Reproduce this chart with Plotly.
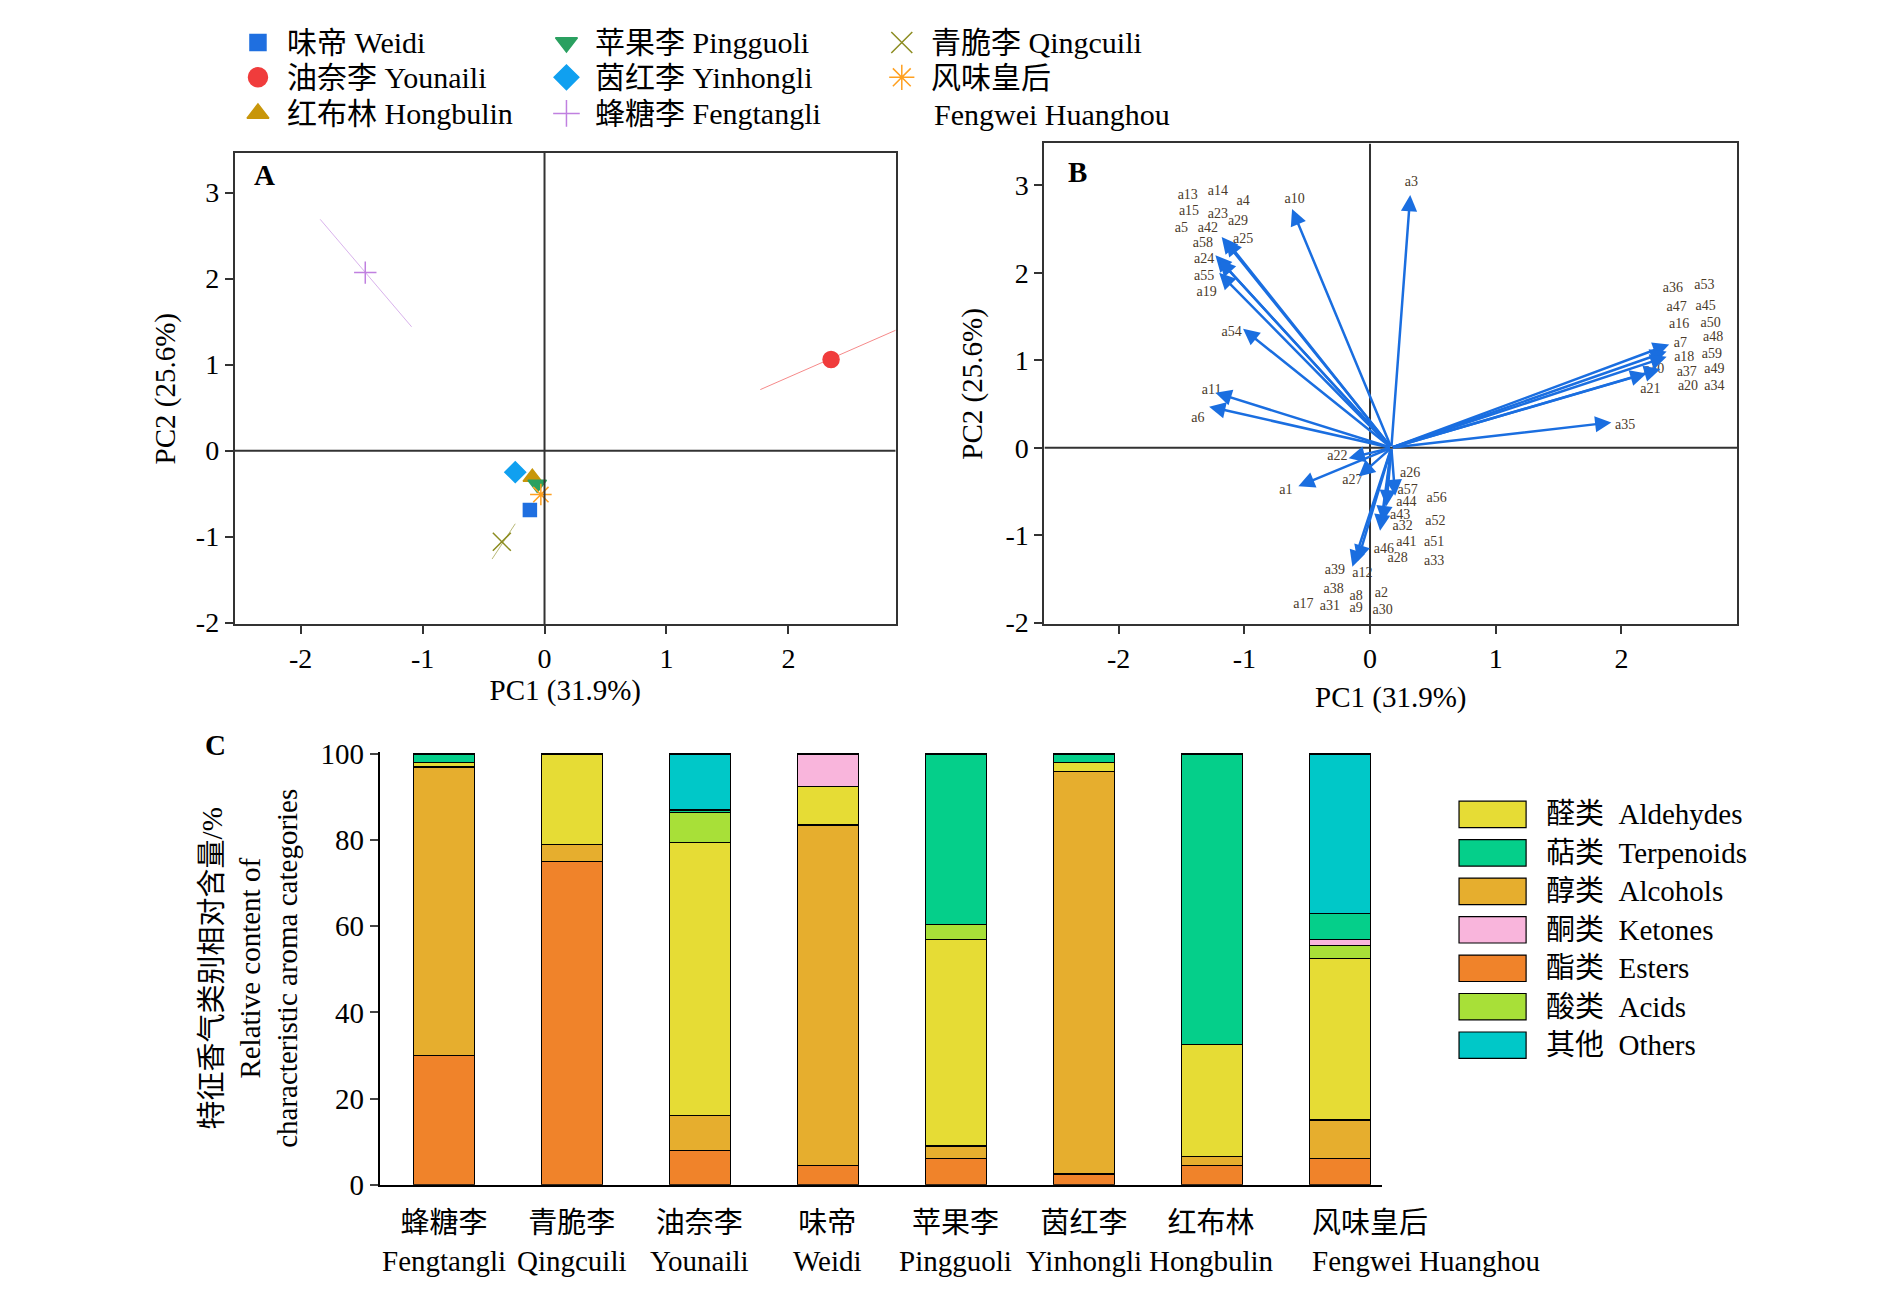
import plotly.graph_objects as go

FONT = "Liberation Serif, Times New Roman, Noto Sans CJK SC"
W, H = 1890, 1299
DW, DH = 1550, 1065  # design units for layout

# ---- Panel A data
cult_cn = ["味帝", "油奈李", "红布林", "苹果李", "茵红李", "蜂糖李", "青脆李", "风味皇后"]
cult_en = ["Weidi", "Younaili", "Hongbulin", "Pingguoli", "Yinhongli", "Fengtangli", "Qingcuili", "Fengwei Huanghou"]
pc1 = [-0.12, 2.35, -0.10, -0.06, -0.24, -1.47, -0.35, -0.03]
pc2 = [-0.69, 1.06, -0.31, -0.39, -0.25, 2.07, -1.06, -0.51]
symbols = ["square", "circle", "triangle-up", "triangle-down", "diamond", "cross-thin", "x-thin", "asterisk-open"]
colors = ["#1f6fe0", "#f03c3c", "#c8960a", "#2aa060", "#10a0f0", "#c080e0", "#8c8c20", "#ffa020"]
sizes = [13, 16, 16, 16, 16, 16, 18, 18]
seg_x = {1: [1.77, 2.88], 5: [-1.84, -1.09], 6: [-0.43, -0.24]}
seg_y = {1: [0.71, 1.40], 5: [2.69, 1.44], 6: [-1.26, -0.85]}
pc_ticks = [-2, -1, 0, 1, 2, 3]
pc_ticktext = ["-2", "-1", "0", "1", "2", "3"]

# ---- Panel B data
arrow_x = [-0.62, 0.32, -1.18, -1.15, -1.23, -1.20, -1.20, -1.01, -1.23, -1.28, 2.38, 2.36, 2.36, 2.31, 2.20,
           1.92, -0.57, -0.17, -0.09, 0.08, 0.10, -0.14, -0.10, 0.13, 0.20]
arrow_y = [2.73, 2.89, 2.41, 2.38, 2.20, 2.15, 2.00, 1.36, 0.63, 0.47, 1.18, 1.10, 1.04, 0.90, 0.85,
           0.29, -0.44, -0.12, -0.33, -0.95, -0.85, -1.36, -1.30, -0.67, -0.55]
origin = (0.17, 0.0)
lab_names = ["a13", "a14", "a4", "a10", "a3", "a15", "a23", "a29", "a5", "a42", "a58", "a25", "a24", "a55", "a19",
             "a54", "a11", "a6", "a22", "a27", "a1", "a26", "a57", "a44", "a56", "a43", "a32", "a52", "a41", "a51",
             "a46", "a28", "a33", "a39", "a12", "a38", "a8", "a2", "a17", "a31", "a9", "a30",
             "a36", "a53", "a47", "a45", "a16", "a50", "a7", "a48", "a18", "a59", "a40", "a37", "a49", "a21", "a20",
             "a34", "a35"]
lab_x = [-1.45, -1.21, -1.01, -0.60, 0.33, -1.44, -1.21, -1.05, -1.50, -1.29, -1.33, -1.01, -1.32, -1.32, -1.30,
         -1.10, -1.26, -1.37, -0.26, -0.14, -0.67, 0.32, 0.30, 0.29, 0.53, 0.24, 0.26, 0.52, 0.29, 0.51,
         0.11, 0.22, 0.51, -0.28, -0.06, -0.29, -0.11, 0.09, -0.53, -0.32, -0.11, 0.10,
         2.41, 2.66, 2.44, 2.67, 2.46, 2.71, 2.47, 2.73, 2.50, 2.72, 2.26, 2.52, 2.74, 2.23, 2.53, 2.74, 2.03]
lab_y = [2.89, 2.93, 2.82, 2.84, 3.03, 2.70, 2.67, 2.59, 2.51, 2.51, 2.33, 2.38, 2.15, 1.96, 1.78,
         1.32, 0.66, 0.34, -0.10, -0.38, -0.49, -0.29, -0.49, -0.63, -0.58, -0.77, -0.90, -0.84, -1.08, -1.08,
         -1.16, -1.27, -1.30, -1.40, -1.44, -1.62, -1.70, -1.67, -1.79, -1.82, -1.84, -1.86,
         1.82, 1.86, 1.60, 1.62, 1.41, 1.42, 1.19, 1.26, 1.03, 1.07, 0.89, 0.86, 0.89, 0.67, 0.70, 0.70, 0.25]

# ---- Panel C data
bar_cn = ["蜂糖李", "青脆李", "油奈李", "味帝", "苹果李", "茵红李", "红布林", "风味皇后"]
bar_en = ["Fengtangli", "Qingcuili", "Younaili", "Weidi", "Pingguoli", "Yinhongli", "Hongbulin", "Fengwei Huanghou"]
cat_cn = ["酯类", "醇类", "醛类", "酸类", "酮类", "萜类", "其他"]
cat_en = ["Esters", "Alcohols", "Aldehydes", "Acids", "Ketones", "Terpenoids", "Others"]
cat_colors = ["#f0832a", "#e6ae2e", "#e6dc35", "#a8e038", "#f9b5dc", "#05cf8a", "#00c8c8"]
values = {
    "Esters":     [30, 75, 8, 4.5, 6, 2.5, 4.5, 6],
    "Alcohols":   [67, 4, 8, 79, 3, 93.5, 2, 9],
    "Aldehydes":  [1, 21, 63.5, 9, 48, 2, 26, 37.5],
    "Acids":      [0, 0, 7, 0, 3.5, 0, 0, 3],
    "Ketones":    [0, 0, 0, 7.5, 0, 0, 0, 1.5],
    "Terpenoids": [2, 0, 0.5, 0, 39.5, 2, 67.5, 6],
    "Others":     [0, 0, 13, 0, 0, 0, 0, 37],
}
legend_order = ["Aldehydes", "Terpenoids", "Alcohols", "Ketones", "Esters", "Acids", "Others"]

def px(x): return x / DW
def py(y): return 1 - ((y - 16.0) / 0.991) / DH

fig = go.Figure()

# Panel A
for i in range(len(pc1)):
    if i in seg_x:
        fig.add_trace(go.Scatter(x=seg_x[i], y=seg_y[i], mode="lines", line=dict(color=colors[i], width=1),
                                 opacity=0.6, xaxis="x", yaxis="y", showlegend=False, hoverinfo="skip"))
    fig.add_trace(go.Scatter(x=[pc1[i]], y=[pc2[i]], mode="markers",
                             marker=dict(symbol=symbols[i], color=colors[i], size=sizes[i],
                                         line=dict(color=colors[i], width=1.5)),
                             xaxis="x", yaxis="y", showlegend=False))

# Panel B labels
fig.add_trace(go.Scatter(x=lab_x, y=lab_y, mode="text", text=lab_names,
                         textfont=dict(family=FONT, size=14, color="#4a3a2a"),
                         xaxis="x2", yaxis="y2", showlegend=False, hoverinfo="skip"))
anns = []
for ax_, ay_ in zip(arrow_x, arrow_y):
    anns.append(dict(x=ax_, y=ay_, ax=origin[0], ay=origin[1], xref="x2", yref="y2", axref="x2", ayref="y2",
                     showarrow=True, arrowhead=2, arrowsize=1.3, arrowwidth=2.5, arrowcolor="#1a6ee0", text=""))

# Panel C
xidx = list(range(len(bar_cn)))
for k, cen in enumerate(cat_en):
    fig.add_trace(go.Bar(x=xidx, y=values[cen], marker=dict(color=cat_colors[k], line=dict(color="black", width=1.2)),
                         width=0.48, xaxis="x3", yaxis="y3", showlegend=False, name=cen))
for i, (c, e) in enumerate(zip(bar_cn, bar_en)):
    if i == len(bar_cn) - 1:
        anns.append(dict(x=px(1068), y=py(1000), xref="paper", yref="paper", text=f"{c}<br>{e}", showarrow=False,
                         xanchor="left", align="left", yanchor="top", font=dict(family=FONT, size=29, color="black")))
    else:
        anns.append(dict(x=i, y=py(1000), xref="x3", yref="paper", text=f"{c}<br>{e}", showarrow=False,
                         xanchor="center", yanchor="top", font=dict(family=FONT, size=29, color="black")))

# Top legend (aux axis)
leg_cols = [205, 458, 733]
leg_rows = [33, 62, 92]
for j in range(len(pc1)):
    c, r = j // 3, j % 3
    fig.add_trace(go.Scatter(x=[px(leg_cols[c])], y=[py(leg_rows[r])], mode="markers",
                             marker=dict(symbol=symbols[j], color=colors[j], size=sizes[j] + 3,
                                         line=dict(color=colors[j], width=1.5)),
                             xaxis="x4", yaxis="y4", showlegend=False, hoverinfo="skip"))
    label = f"{cult_cn[j]} {cult_en[j]}" if j != 7 else f"{cult_cn[j]}"
    anns.append(dict(x=px(leg_cols[c] + 22), y=py(leg_rows[r]), xref="paper", yref="paper", text=label,
                     showarrow=False, xanchor="left", yanchor="middle", font=dict(family=FONT, size=30, color="black")))
anns.append(dict(x=px(leg_cols[2] + 25), y=py(93), xref="paper", yref="paper", text="Fengwei Huanghou",
                 showarrow=False, xanchor="left", yanchor="middle", font=dict(family=FONT, size=30, color="black")))

# C legend
shapes = []
for r, cen in enumerate(legend_order):
    k = cat_en.index(cen)
    yc = 675 + 32 * r
    shapes.append(dict(type="rect", xref="paper", yref="paper", x0=px(1190), x1=px(1245), y0=py(yc + 11), y1=py(yc - 11),
                       fillcolor=cat_colors[k], line=dict(color="black", width=1.2)))
    anns.append(dict(x=px(1260), y=py(yc), xref="paper", yref="paper", text=f"{cat_cn[k]}  {cen}", showarrow=False,
                     xanchor="left", yanchor="middle", font=dict(family=FONT, size=29, color="black")))

# panel letters
for t, xx, yy in [("A", 200, 143), ("B", 868, 141), ("C", 160, 617)]:
    anns.append(dict(x=px(xx), y=py(yy), xref="paper", yref="paper", text=f"<b>{t}</b>", showarrow=False,
                     xanchor="left", yanchor="middle", font=dict(family=FONT, size=29, color="black")))

# zero lines
for xr, yr, x0, x1, y0, y1 in [("x", "y", 0, 0, -2.02, 3.46), ("x", "y", -2.54, 2.88, 0, 0),
                               ("x2", "y2", 0, 0, -2.02, 3.48), ("x2", "y2", -2.59, 2.92, 0, 0)]:
    shapes.append(dict(type="line", xref=xr, yref=yr, x0=x0, x1=x1, y0=y0, y1=y1, line=dict(color="#333", width=2)))

axbase = dict(showgrid=False, zeroline=False, showline=True, linecolor="#333", linewidth=2, mirror=True,
              ticks="outside", ticklen=8, tickwidth=1.5, tickcolor="#333",
              tickvals=pc_ticks, ticktext=pc_ticktext,
              tickfont=dict(family=FONT, size=28, color="black"))
tfont = dict(family=FONT, size=29, color="black")

fig.update_layout(
    width=W, height=H, margin=dict(l=0, r=0, t=0, b=0), paper_bgcolor="white", plot_bgcolor="rgba(0,0,0,0)",
    barmode="stack", font=dict(family=FONT),
    xaxis=dict(axbase, domain=[px(186), px(728)], range=[-2.54, 2.88], anchor="y",
               title=dict(text="PC1 (31.9%)", font=tfont, standoff=4)),
    yaxis=dict(axbase, domain=[py(517), py(125)], range=[-2.02, 3.46], anchor="x",
               title=dict(text="PC2 (25.6%)", font=tfont, standoff=12)),
    xaxis2=dict(axbase, domain=[px(850), px(1418)], range=[-2.59, 2.92], anchor="y2",
                title=dict(text="PC1 (31.9%)", font=tfont, standoff=14)),
    yaxis2=dict(axbase, domain=[py(517), py(117)], range=[-2.02, 3.48], anchor="x2",
                title=dict(text="PC2 (25.6%)", font=tfont, standoff=14)),
    xaxis3=dict(showgrid=False, showline=True, linecolor="black", linewidth=2, domain=[px(305), px(1127)],
                range=[-0.5, 7.33], anchor="y3", ticks="", showticklabels=False),
    yaxis3=dict(showgrid=False, showline=True, linecolor="black", linewidth=2, domain=[py(983), py(623)],
                range=[0, 100.5], dtick=20, anchor="x3", ticks="outside", ticklen=8, tickwidth=1.5,
                tickfont=dict(family=FONT, size=29, color="black"),
                title=dict(text="特征香气类别相对含量/%<br>Relative content of<br>characteristic aroma categories",
                           font=tfont, standoff=14)),
    xaxis4=dict(domain=[0, 1], range=[0, 1], visible=False, anchor="y4", fixedrange=True),
    yaxis4=dict(domain=[0, 1], range=[0, 1], visible=False, anchor="x4", fixedrange=True),
    annotations=anns, shapes=shapes,
)
fig.write_html("out.html")
